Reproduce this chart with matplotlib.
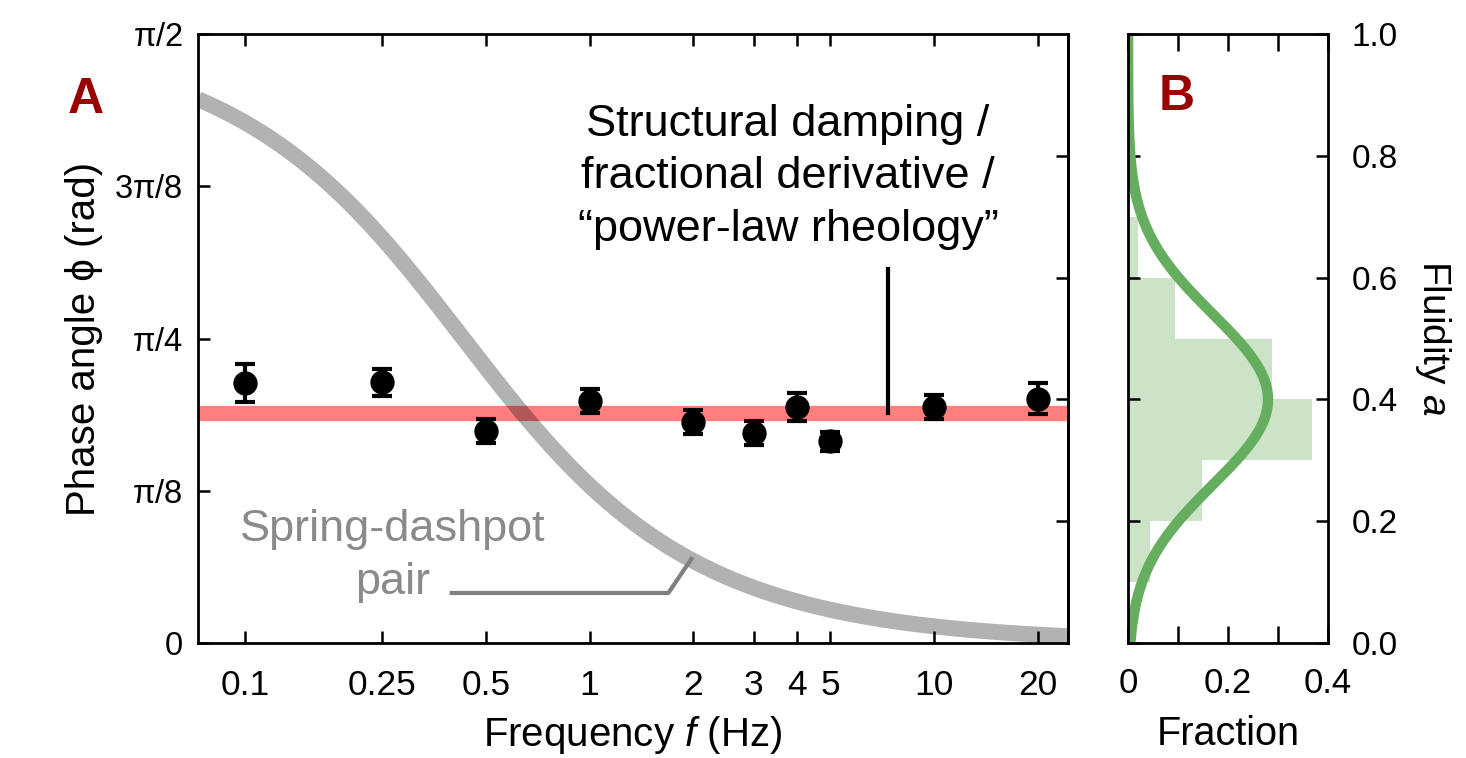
import numpy as np
import matplotlib
matplotlib.use("Agg")
import matplotlib.pyplot as plt
from matplotlib.ticker import NullLocator, FixedLocator

plt.rcParams["font.family"] = ["Liberation Sans", "DejaVu Sans"]
plt.rcParams["mathtext.fontset"] = "custom"
plt.rcParams["mathtext.rm"] = "Liberation Sans"
plt.rcParams["mathtext.it"] = "Liberation Sans:italic"

# ---- Panel A: phase angle vs. driving frequency ----
freq = [0.1, 0.25, 0.5, 1, 2, 3, 4, 5, 10, 20]
phase = [0.671, 0.672, 0.546, 0.625, 0.570, 0.542, 0.609, 0.520, 0.609, 0.630]
phase_err = [0.049, 0.036, 0.031, 0.031, 0.032, 0.031, 0.036, 0.024, 0.031, 0.040]

freq_ticks = [0.1, 0.25, 0.5, 1, 2, 3, 4, 5, 10, 20]
freq_labels = ["0.1", "0.25", "0.5", "1", "2", "3", "4", "5", "10", "20"]
phase_ticks = [0, np.pi / 8, np.pi / 4, 3 * np.pi / 8, np.pi / 2]
phase_labels = ["0", r"$\mathrm{\pi}$/8", r"$\mathrm{\pi}$/4", r"3$\mathrm{\pi}$/8", r"$\mathrm{\pi}$/2"]

mean_fluidity = 0.377          # power-law exponent, phase = a * pi/2
maxwell_tau = 0.37             # relaxation time of the spring-dashpot pair (s)
fluidity_marks = [0.2, 0.4, 0.6, 0.8]

# ---- Panel B: distribution of fluidity ----
fluidity_bins = [0.0, 0.1, 0.2, 0.3, 0.4, 0.5, 0.6, 0.7, 0.8, 0.9]
fluidity_fraction = [0.0, 0.044, 0.148, 0.368, 0.288, 0.094, 0.020, 0.0, 0.0, 0.0]
fit_mean, fit_sigma, fit_peak = 0.40, 0.14, 0.28
fraction_ticks = [0, 0.1, 0.2, 0.3, 0.4]
fraction_labels = ["0", "", "0.2", "", "0.4"]
fluidity_ticks = [0.0, 0.2, 0.4, 0.6, 0.8, 1.0]

W, H = 1466, 758
fig = plt.figure(figsize=(W / 100, H / 100), dpi=100)


def px(x, y):
    return x / W, 1 - y / H


ax = fig.add_axes([198 / W, 1 - 643 / H, 870 / W, 609 / H])
ax2 = fig.add_axes([1128 / W, 1 - 643 / H, 200 / W, 609 / H])

# --- panel A ---
ax.set_xscale("log")
ax.set_xlim(0.073, 24.5)
ax.set_ylim(0, np.pi / 2)

ax.axhline(mean_fluidity * np.pi / 2, color="red", alpha=0.5, lw=11, zorder=1)

f_model = np.logspace(np.log10(0.073), np.log10(24.5), 400)
phi_model = np.arctan(1 / (2 * np.pi * f_model * maxwell_tau))
ax.plot(f_model, phi_model, color="black", alpha=0.3, lw=11.5,
        solid_capstyle="butt", zorder=2)

ax.errorbar(freq, phase, yerr=phase_err, fmt="o", color="black", ms=16.5,
            capsize=7.5, capthick=3, elinewidth=3, zorder=4)

ax.xaxis.set_major_locator(FixedLocator(freq_ticks))
ax.xaxis.set_minor_locator(NullLocator())
ax.set_xticklabels(freq_labels)
ax.set_yticks(phase_ticks)
ax.set_yticklabels(phase_labels)
ax.tick_params(axis="both", direction="in", length=8.5, width=1.8,
               top=True, right=False)
ax.tick_params(axis="x", pad=19, labelsize=25.5)
ax.tick_params(axis="y", pad=11, labelsize=23.5)
for s in ax.spines.values():
    s.set_linewidth(2.0)

sec = ax.secondary_yaxis("right", functions=(lambda y: y / (np.pi / 2),
                                              lambda a: a * np.pi / 2))
sec.set_yticks(fluidity_marks)
sec.tick_params(direction="in", length=8.5, width=1.8, labelright=False)
sec.spines["right"].set_linewidth(2.0)

ax.set_xlabel("Frequency $f$ (Hz)", fontsize=29, labelpad=8)
ax.set_ylabel("Phase angle \u03d5 (rad)", fontsize=29, labelpad=8)

# annotation for the power-law fit
ax.plot([7.36, 7.36], [mean_fluidity * np.pi / 2, 0.964], color="black", lw=3, zorder=3)
fig.text(*px(788, 177), "Structural damping /\nfractional derivative /\n\u201cpower-law rheology\u201d",
         ha="center", va="center", fontsize=32.5, linespacing=1.36)

# spring-dashpot label with leader
ax.plot([0.398, 1.694, 1.976], [0.129, 0.129, 0.217], color="#808080", lw=3, zorder=3)
fig.text(*px(393, 556), "Spring-dashpot\npair", ha="center", va="center",
         fontsize=32.5, color="#8a8a8a", linespacing=1.36)

fig.text(*px(86, 100), "A", ha="center", va="center", fontsize=36,
         fontweight="bold", color="#990000")

# --- panel B ---
ax2.set_xlim(0, 0.4)
ax2.set_ylim(0, 1)
ax2.barh(fluidity_bins, fluidity_fraction, height=0.1, align="edge",
         color="#cce3c8", edgecolor="none", zorder=1)
a_grid = np.linspace(0, 1, 300)
ax2.plot(fit_peak * np.exp(-(a_grid - fit_mean) ** 2 / (2 * fit_sigma ** 2)),
         a_grid, color="#66ae5f", lw=7.5, zorder=2)

ax2.set_xticks(fraction_ticks)
ax2.set_xticklabels(fraction_labels)
ax2.set_yticks(fluidity_ticks)
ax2.set_yticklabels([f"{v:.1f}" for v in fluidity_ticks])
ax2.tick_params(axis="x", direction="in", length=12, width=1.8, labelsize=25,
                top=True, pad=17)
ax2.tick_params(axis="y", direction="in", length=8.5, width=1.8, labelsize=24,
                left=True, right=True, labelleft=False, labelright=True, pad=17)
for s in ax2.spines.values():
    s.set_linewidth(2.0)
ax2.yaxis.set_label_position("right")
ax2.set_ylabel("Fluidity $a$", fontsize=28, rotation=270, labelpad=40)
ax2.set_xlabel("Fraction", fontsize=28.5, labelpad=11)

fig.text(*px(1177, 97), "B", ha="center", va="center", fontsize=36,
         fontweight="bold", color="#990000")

fig.savefig("out.png", dpi=100, facecolor="white")
